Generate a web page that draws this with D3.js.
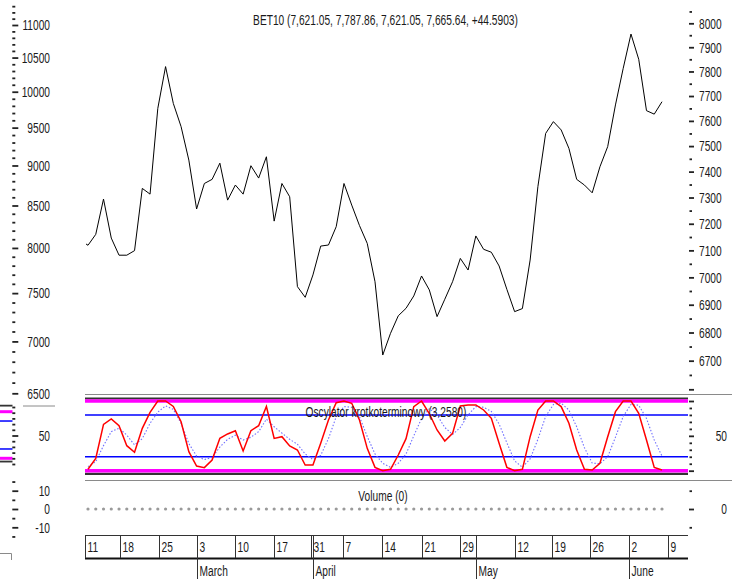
<!DOCTYPE html>
<html><head><meta charset="utf-8">
<script src="https://cdn.jsdelivr.net/npm/d3@7"></script>
<style>
body{margin:0;background:#fff}
svg{display:block}
text{font-family:"Liberation Sans",Arial,sans-serif;font-size:15px;fill:#1a1a1a}
</style>
</head><body>
<svg id="c" width="741" height="579"></svg>
<script>
// ---------------- data ----------------
const title = "BET10 (7,621.05, 7,787.86, 7,621.05, 7,665.64, +44.5903)";
const oscTitle = "Oscylator krotkoterminowy (3.2580)";
const volTitle = "Volume (0)";

const prevClose = 7138; // day before the first visible one (clipped at left edge)
const close = [7119, 7160, 7294, 7146, 7082, 7082, 7099, 7335, 7313, 7650,
  7820, 7670, 7577, 7445, 7256, 7354, 7370, 7433, 7290, 7348,
  7313, 7423, 7375, 7458, 7210, 7354, 7303, 6966, 6927, 7009,
  7116, 7120, 7189, 7354, 7271, 7193, 7126, 6984, 6720, 6797,
  6860, 6887, 6932, 7005, 6954, 6857, 6920, 6984, 7070, 7027,
  7154, 7104, 7093, 7042, 6956, 6875, 6886, 7064, 7342, 7550,
  7597, 7564, 7491, 7370, 7348, 7318, 7419, 7498, 7664, 7813,
  7955, 7850, 7641, 7627, 7677];

const oscK = [2, 17.7, 66.5, 74.2, 64.6, 35.9, 26.4, 60.8, 83.7, 100,
  100, 92.2, 70.3, 27.3, 6.7, 4.4, 15.4, 46.4, 52.7, 57.4,
  28.3, 57.4, 64.6, 92.1, 46.4, 48.8, 35.4, 29.7, 8.2, 8.2,
  39.3, 72.7, 97.6, 100, 96.7, 72.7, 32.1, 4.8, 0, 2,
  22.5, 46, 91.9, 100, 82, 58.4, 42.6, 53.6, 92.8, 94.3,
  94.3, 87.1, 75.1, 39.3, 4.8, 0, 2, 48.8, 87, 100,
  100, 92, 68, 29.7, 2, 1, 10.6, 48.8, 84.7, 100,
  100, 82.3, 44, 4.8, 1];

const oscD = [5.8, 13, 36, 56, 61, 51, 37, 46, 68, 84,
  93, 88, 68, 39, 21, 16, 19, 34, 45, 51,
  44, 48, 56, 74, 63, 54, 45, 38, 24, 16,
  22, 46, 77.5, 92, 91, 77.5, 49, 24, 10.6, 4.8,
  10.6, 24, 50, 75, 89, 80, 62, 52, 62, 80,
  92, 91, 85, 67, 40, 14, 5, 17, 45, 78,
  95, 97, 87, 63, 33, 11, 10, 20, 48, 78,
  95, 94, 75, 44, 21];

const volume = [0,0,0,0,0,0,0,0,0,0, 0,0,0,0,0,0,0,0,0,0, 0,0,0,0,0,0,0,0,0,0,
  0,0,0,0,0,0,0,0,0,0, 0,0,0,0,0,0,0,0,0,0, 0,0,0,0,0,0,0,0,0,0,
  0,0,0,0,0,0,0,0,0,0, 0,0,0,0,0];

const oscLevels = [0, 20, 80, 100];

// week ticks (position in trading-day index units) and labels
const weekPos =    [-0.4, 4.12, 9.11, 14.01, 18.94, 23.97, 28.69, 32.9, 37.85, 43.0, 47.94, 55.03, 59.88, 64.78, 69.76, 74.78];
const weekLabels = ["11", "18", "25", "3", "10", "17", "31", "7", "14", "21", "29", "12", "19", "26", "2", "9"];
const monthPos =    [14.01, 28.95, 50.0, 69.76];
const monthLabels = ["March", "April", "May", "June"];

const leftMainMajor = d3.range(6500, 11001, 500);
const leftMainMinor = d3.range(6600, 11301, 100).filter(v => v % 500 !== 0);
const rightMainMajor = d3.range(6600, 8001, 100);
const rightMainLabels = d3.range(6700, 8001, 100);
const rightMainMinor = d3.range(6650, 8051, 100);
const oscTicks = d3.range(0, 101, 10);
const oscMajor = [0, 50, 100];
const volLeftTicks = [-15, -10, -5, 0, 5, 10, 15];
const volMajor = [-10, 0, 10];

// ---------------- layout ----------------
const SX = 0.68;
const svg = d3.select("#c");
const plotL = 85, plotR = 688, sepR = 732;

const x = d3.scaleLinear().domain([0, 74]).range([88, 662]);
const yL = d3.scaleLog().domain([6500, 11000]).range([393.3, 25]);
const yR = d3.scaleLog().domain([6600, 8000]).range([389.3, 23.3]);
const yO = d3.scaleLinear().domain([0, 100]).range([470.7, 401]);
const yOL = d3.scaleLinear().domain([0, 100]).range([458.3, 411.7]);
const yOT = d3.scaleLinear().domain([0, 100]).range([464, 407]);
const yV = d3.scaleLinear().domain([-10, 10]).range([527.3, 490.7]);

function txt(g, px, py, s, anchor) {
  return g.append("text")
    .attr("transform", `translate(${px},${py}) scale(${SX},1)`)
    .attr("text-anchor", anchor || "start")
    .text(s);
}
function hline(y, x1, x2, color, w) {
  svg.append("line").attr("x1", x1).attr("x2", x2).attr("y1", y).attr("y2", y)
    .attr("stroke", color).attr("stroke-width", w);
}
function ticks(scale, vals, len, tx) {
  const a = svg.append("g").attr("transform", `translate(${tx},0)`)
    .call(d3.axisRight(scale).tickValues(vals).tickSize(len).tickSizeOuter(0).tickFormat(""));
  a.select(".domain").remove();
  a.selectAll("line").attr("stroke", "#222").attr("stroke-width", 1.8);
}

// separators
hline(394.5, plotL, sepR, "#8a8a8a", 1);
hline(480.5, plotL, sepR, "#8a8a8a", 1);
hline(406, 23, 55, "#8a8a8a", 1);

// oscillator frame and levels
hline(398.5, plotL, plotR, "#333", 2.2);
hline(473.8, plotL, plotR, "#333", 2.2);
oscLevels.forEach(v => {
  const mag = (v === 0 || v === 100);
  hline(yO(v), plotL, plotR, mag ? "#ff00ff" : "#0000ff", mag ? 3.4 : 1.5);
});
// compressed copy at far left
hline(yOL(113), 0, 12.5, "#333", 1.8);
hline(yOL(-7), 0, 12.5, "#333", 1.8);
oscLevels.forEach(v => {
  const mag = (v === 0 || v === 100);
  hline(yOL(v), 0, 12.5, mag ? "#ff00ff" : "#0000ff", mag ? 3 : 1.5);
});

// oscillator lines
const lineD = d3.line().x((d, i) => x(i)).y(d => yO(d));
svg.append("path").attr("d", lineD(oscD)).attr("fill", "none")
  .attr("stroke", "#6f6fff").attr("stroke-width", 1.1).attr("stroke-dasharray", "1.5,1.8");
svg.append("path").attr("d", lineD(oscK)).attr("fill", "none")
  .attr("stroke", "#ff0000").attr("stroke-width", 1.5);
txt(svg, 386, 416.5, oscTitle, "middle");

// volume
svg.append("g").selectAll("circle").data(volume).join("circle")
  .attr("cx", (d, i) => x(i)).attr("cy", d => yV(d)).attr("r", 1.6).attr("fill", "#9a9a9a");
txt(svg, 383, 500.5, volTitle, "middle");

// price line
svg.append("clipPath").attr("id", "clipMain").append("rect")
  .attr("x", 86).attr("y", 0).attr("width", 610).attr("height", 394);
const pts = [{i: -1, v: prevClose}].concat(close.map((v, i) => ({i, v})));
svg.append("path").attr("clip-path", "url(#clipMain)")
  .attr("d", d3.line().x(d => x(d.i)).y(d => yR(d.v))(pts))
  .attr("fill", "none").attr("stroke", "#000").attr("stroke-width", 1);
txt(svg, 385.5, 24.5, title, "middle");

// left main axis
ticks(yL, leftMainMajor, 6, 12.3);
ticks(yL, leftMainMinor, 3, 12.3);
leftMainMajor.forEach(v => txt(svg, 50, yL(v) + 5.3, String(v), "end"));
// right main axis
ticks(yR, rightMainMajor, 5, 689);
ticks(yR, rightMainMinor, 2.5, 689.5);
rightMainLabels.forEach(v => txt(svg, 699, yR(v) + 5.3, String(v), "start"));

// oscillator axes
ticks(yOT, oscTicks.filter(v => v === 50), 6, 12.3);
ticks(yOT, oscTicks.filter(v => v !== 50), 3, 12.3);
txt(svg, 50, yOT(50) + 5.3, "50", "end");
ticks(yO, oscMajor, 5, 689);
ticks(yO, oscTicks.filter(v => !oscMajor.includes(v)), 2.5, 689.5);
txt(svg, 727, yO(50) + 5.3, "50", "end");

// volume axes
ticks(yV, volMajor, 6, 12.3);
ticks(yV, volLeftTicks.filter(v => !volMajor.includes(v)), 3, 12.3);
volMajor.slice().reverse().forEach(v => txt(svg, 50, yV(v) + 5.3, String(v), "end"));
ticks(yV, [0], 5, 689);
ticks(yV, [-10, 10], 2.5, 689.5);
txt(svg, 727, yV(0) + 5.3, "0", "end");

// bottom-left fragment
svg.append("path").attr("d", "M0,553.5H11.5V560").attr("fill", "none").attr("stroke", "#8a8a8a");

// x axis (weeks / months)
hline(535.5, plotL, plotR, "#333", 1);
hline(558.5, plotL, plotR, "#111", 2);
const xa = svg.append("g");
weekPos.forEach((p, k) => {
  const px = Math.round(x(p)) + 0.5;
  xa.append("line").attr("x1", px).attr("x2", px).attr("y1", 535).attr("y2", 558)
    .attr("stroke", "#333").attr("stroke-width", 1);
  txt(xa, px + 2, 551.5, weekLabels[k], "start");
});
monthPos.forEach((p, k) => {
  const px = Math.round(x(p)) + 0.5;
  xa.append("line").attr("x1", px).attr("x2", px).attr("y1", 535).attr("y2", 579)
    .attr("stroke", "#333").attr("stroke-width", 1);
  txt(xa, px + 2, 575.5, monthLabels[k], "start");
});
</script>
</body></html>
